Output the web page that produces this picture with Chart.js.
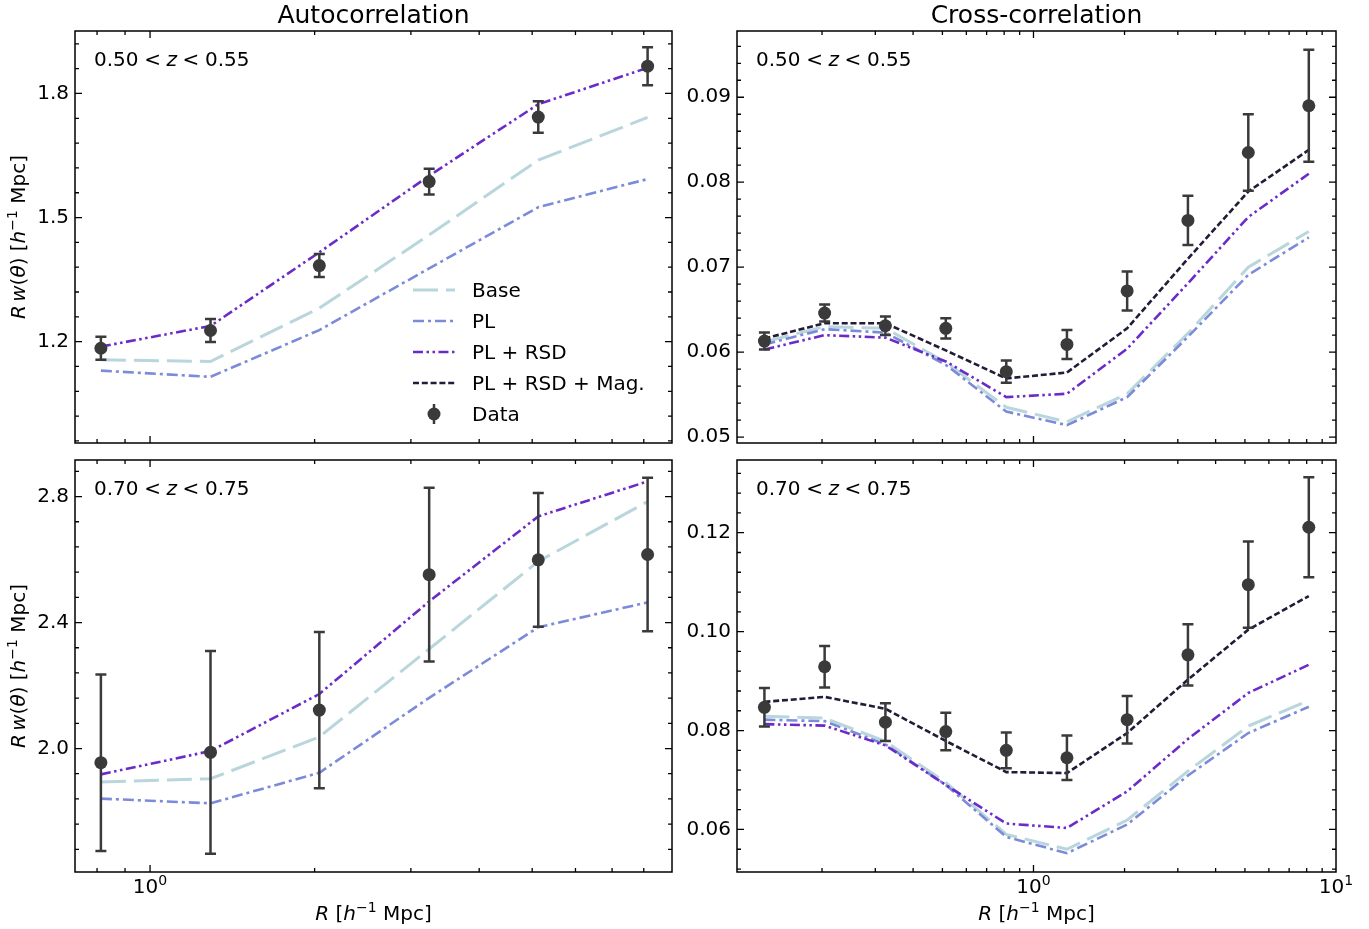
<!DOCTYPE html>
<html><head><meta charset="utf-8">
<script src="https://cdn.jsdelivr.net/npm/chart.js@4.4.1/dist/chart.umd.min.js"></script>
<style>
html,body{margin:0;padding:0;background:#fff;}
body{width:1369px;height:929px;position:relative;overflow:hidden;}
canvas{position:absolute;left:0;top:0;}
</style>
</head><body>
<canvas id="c0" width="1369" height="929"></canvas>
<canvas id="c1" width="1369" height="929"></canvas>
<canvas id="c2" width="1369" height="929"></canvas>
<canvas id="c3" width="1369" height="929"></canvas>
<script>
// ---------------- data ----------------
const R_AUTO  = [0.813, 1.29, 2.04, 3.24, 5.13, 8.13];
const R_CROSS = [0.129, 0.204, 0.324, 0.513, 0.813, 1.29, 2.04, 3.24, 5.13, 8.13];

// Autocorrelation, 0.50 < z < 0.55
const autoLo_data  = [1.184, 1.227, 1.384, 1.587, 1.743, 1.866];
const autoLo_err   = [0.028, 0.028, 0.028, 0.031, 0.038, 0.046];
const autoLo_base  = [1.156, 1.152, 1.281, 1.458, 1.639, 1.742];
const autoLo_pl    = [1.130, 1.115, 1.228, 1.377, 1.525, 1.593];
const autoLo_plrsd = [1.188, 1.238, 1.416, 1.601, 1.774, 1.862];

// Autocorrelation, 0.70 < z < 0.75
const autoHi_data  = [1.955, 1.988, 2.122, 2.552, 2.599, 2.616];
const autoHi_err   = [0.280, 0.322, 0.248, 0.276, 0.212, 0.244];
const autoHi_base  = [1.894, 1.904, 2.037, 2.316, 2.594, 2.784];
const autoHi_pl    = [1.841, 1.826, 1.923, 2.161, 2.385, 2.464];
const autoHi_plrsd = [1.918, 1.992, 2.173, 2.467, 2.737, 2.848];

// Cross-correlation, 0.50 < z < 0.55
const crossLo_data  = [0.0613, 0.0646, 0.0631, 0.0628, 0.0577, 0.0609, 0.0672, 0.0755, 0.0835, 0.0890];
const crossLo_err   = [0.0010, 0.0010, 0.0011, 0.0012, 0.0013, 0.0017, 0.0023, 0.0029, 0.0045, 0.0066];
const crossLo_base  = [0.0612, 0.0630, 0.0628, 0.0588, 0.0535, 0.0518, 0.0551, 0.0622, 0.0700, 0.0742];
const crossLo_pl    = [0.0609, 0.0627, 0.0623, 0.0585, 0.0530, 0.0514, 0.0547, 0.0618, 0.0691, 0.0735];
const crossLo_plrsd = [0.0603, 0.0620, 0.0617, 0.0589, 0.0547, 0.0551, 0.0604, 0.0681, 0.0759, 0.0810];
const crossLo_mag   = [0.0616, 0.0634, 0.0634, 0.0602, 0.0569, 0.0576, 0.0628, 0.0710, 0.0789, 0.0838];

// Cross-correlation, 0.70 < z < 0.75
const crossHi_data  = [0.0847, 0.0929, 0.0817, 0.0798, 0.0760, 0.0745, 0.0822, 0.0953, 0.1095, 0.1211];
const crossHi_err   = [0.0039, 0.0042, 0.0038, 0.0038, 0.0036, 0.0045, 0.0048, 0.0062, 0.0087, 0.0101];
const crossHi_base  = [0.0829, 0.0825, 0.0778, 0.0695, 0.0590, 0.0560, 0.0619, 0.0718, 0.0809, 0.0861];
const crossHi_pl    = [0.0822, 0.0819, 0.0772, 0.0690, 0.0585, 0.0552, 0.0610, 0.0709, 0.0795, 0.0848];
const crossHi_plrsd = [0.0813, 0.0810, 0.0770, 0.0690, 0.0612, 0.0603, 0.0677, 0.0783, 0.0876, 0.0933];
const crossHi_mag   = [0.0858, 0.0868, 0.0844, 0.0779, 0.0716, 0.0714, 0.0795, 0.0903, 0.1004, 0.1072];

// tick values and labels
const autoLoTicks  = [1.2, 1.5, 1.8];        const autoLoLabels  = ['1.2','1.5','1.8'];
const autoHiTicks  = [2.0, 2.4, 2.8];        const autoHiLabels  = ['2.0','2.4','2.8'];
const crossLoTicks = [0.05,0.06,0.07,0.08,0.09]; const crossLoLabels = ['0.05','0.06','0.07','0.08','0.09'];
const crossHiTicks = [0.06,0.08,0.10,0.12];  const crossHiLabels = ['0.06','0.08','0.10','0.12'];
const autoXMajors  = [1];                    const autoXExp  = ['0'];
const crossXMajors = [1, 10];                const crossXExp = ['0','1'];

const seriesNames = ['Base', 'PL', 'PL + RSD', 'PL + RSD + Mag.', 'Data'];

// ---------------- styles ----------------
const W = 1369, H = 929;
const FONT = '"DejaVu Sans", sans-serif';
const COL = { base:'#b9d6dd', pl:'#7b8bda', plrsd:'#6b2bc9', mag:'#231b37', data:'#3a3a3a' };
const DASH = { base:[25,8], pl:[11,4,3,4], plrsd:[10,3.5,2.5,3.5,2.5,3.5], mag:[6,2.8] };
const LW = { base:3, pl:2.6, plrsd:2.6, mag:2.6 };
const AXW = 60;

function segFont(sz, it){ return (it ? 'italic ' : '') + sz + 'px ' + FONT; }
function drawRich(ctx, segs, x, y, size, align, rot){
  let w = 0; const out = [];
  for (const s of segs){
    if (s.sp !== undefined){ w += s.sp*size; continue; }
    const sz = s.sup ? size*0.7 : size;
    const f = segFont(sz, s.it);
    ctx.font = f;
    const sw = ctx.measureText(s.t).width;
    out.push({t:s.t, x:w, f, dy: s.sup ? -size*0.4 : 0});
    w += sw;
  }
  ctx.save();
  ctx.translate(x, y);
  if (rot) ctx.rotate(rot);
  const x0 = align === 'center' ? -w/2 : align === 'right' ? -w : 0;
  ctx.textBaseline = 'alphabetic'; ctx.textAlign = 'left'; ctx.fillStyle = '#000';
  for (const o of out){ ctx.font = o.f; ctx.fillText(o.t, x0 + o.x, o.dy); }
  ctx.restore();
}
const Y_TITLE = [{t:'R',it:1},{sp:0.17},{t:'w',it:1},{t:'('},{t:'θ',it:1},{t:')'},{t:' ['},{t:'h',it:1},{t:'−1',sup:1},{t:' Mpc]'}];
const X_TITLE = [{t:'R',it:1},{t:' ['},{t:'h',it:1},{t:'−1',sup:1},{t:' Mpc]'}];
function zSegs(a, b){ return [{t:a},{sp:0.28},{t:'<'},{sp:0.28},{t:'z',it:1},{sp:0.28},{t:'<'},{sp:0.28},{t:b}]; }

function makePanel(spec){
  const xs = spec.x;
  const pts = arr => arr.map((v,i) => ({x: xs[i], y: v}));
  const S = spec.series;
  const datasets = [
    {label:'Data', data:pts(S.data), showLine:false, pointRadius:6.5, pointHoverRadius:6.5,
     pointBackgroundColor:COL.data, pointBorderWidth:0, order:0}
  ];
  if (S.mag) datasets.push({label:seriesNames[3], data:pts(S.mag), showLine:true, borderColor:COL.mag,
     borderWidth:LW.mag, borderDash:DASH.mag, pointRadius:0, order:1});
  datasets.push({label:seriesNames[2], data:pts(S.plrsd), showLine:true, borderColor:COL.plrsd,
     borderWidth:LW.plrsd, borderDash:DASH.plrsd, pointRadius:0, order:2});
  datasets.push({label:seriesNames[1], data:pts(S.pl), showLine:true, borderColor:COL.pl,
     borderWidth:LW.pl, borderDash:DASH.pl, pointRadius:0, order:3});
  datasets.push({label:seriesNames[0], data:pts(S.base), showLine:true, borderColor:COL.base,
     borderWidth:LW.base, borderDash:DASH.base, pointRadius:0, order:4});

  const a = spec.area;
  const deco = {
    id: 'deco' + spec.id,
    beforeDatasetDraw(chart, args){
      if (args.index !== 0) return;
      const ctx = chart.ctx, xS = chart.scales.x, yS = chart.scales.y;
      ctx.save();
      ctx.strokeStyle = COL.data; ctx.lineWidth = 2.5; ctx.setLineDash([]);
      S.data.forEach((v, i) => {
        const px = xS.getPixelForValue(xs[i]);
        const y1 = yS.getPixelForValue(v + S.err[i]);
        const y2 = yS.getPixelForValue(v - S.err[i]);
        ctx.beginPath();
        ctx.moveTo(px, y1); ctx.lineTo(px, y2);
        ctx.moveTo(px - 5.5, y1); ctx.lineTo(px + 5.5, y1);
        ctx.moveTo(px - 5.5, y2); ctx.lineTo(px + 5.5, y2);
        ctx.stroke();
      });
      ctx.restore();
    },
    afterDraw(chart){
      const ctx = chart.ctx, ca = chart.chartArea, xS = chart.scales.x, yS = chart.scales.y;
      ctx.save();
      ctx.setLineDash([]);
      ctx.strokeStyle = '#000'; ctx.lineWidth = 1.5;
      ctx.strokeRect(ca.left, ca.top, ca.right - ca.left, ca.bottom - ca.top);
      ctx.lineWidth = 1.3;
      const tickX = (v, len) => {
        const p = xS.getPixelForValue(v);
        if (p < ca.left + 1 || p > ca.right - 1) return;
        ctx.beginPath();
        ctx.moveTo(p, ca.bottom); ctx.lineTo(p, ca.bottom - len);
        ctx.moveTo(p, ca.top); ctx.lineTo(p, ca.top + len);
        ctx.stroke();
      };
      const tickY = (v, len) => {
        const p = yS.getPixelForValue(v);
        if (p < ca.top + 1 || p > ca.bottom - 1) return;
        ctx.beginPath();
        ctx.moveTo(ca.left, p); ctx.lineTo(ca.left + len, p);
        ctx.moveTo(ca.right, p); ctx.lineTo(ca.right - len, p);
        ctx.stroke();
      };
      spec.xMajors.forEach(v => tickX(v, 7));
      for (let d = -1; d <= 0; d++){
        for (let m = 2; m <= 9; m++){
          const v = m * Math.pow(10, d);
          if (v > spec.xMin && v < spec.xMax) tickX(v, 4);
        }
      }
      spec.yTicks.forEach(v => tickY(v, 7));
      const st = spec.yMinor;
      for (let k = Math.ceil(spec.yMin / st - 1e-9); k * st <= spec.yMax; k++){
        const v = k * st;
        if (spec.yTicks.some(t => Math.abs(t - v) < st * 0.01)) continue;
        tickY(v, 4);
      }
      if (spec.bottom){
        spec.xMajors.forEach((v, i) => {
          const p = xS.getPixelForValue(v);
          drawRich(ctx, [{t:'10'},{t:spec.xExp[i], sup:1}], p, 893, 20, 'center');
        });
        drawRich(ctx, X_TITLE, (ca.left + ca.right)/2, 920, 20, 'center');
      }
      if (spec.title){
        ctx.font = '25px ' + FONT; ctx.fillStyle = '#000'; ctx.textAlign = 'center'; ctx.textBaseline = 'alphabetic';
        ctx.fillText(spec.title, (ca.left + ca.right)/2, 23);
      }
      if (spec.yTitle){
        drawRich(ctx, Y_TITLE, 25, (ca.top + ca.bottom)/2, 20, 'center', -Math.PI/2);
      }
      drawRich(ctx, zSegs(spec.z[0], spec.z[1]), ca.left + 19, ca.top + 35, 20, 'left');
      if (spec.legend){
        const x0 = 413, x1 = 455, tx = 472;
        const keys = ['base','pl','plrsd','mag','data'];
        keys.forEach((k, i) => {
          const y = 290 + i * 31;
          if (k === 'data'){
            ctx.strokeStyle = COL.data; ctx.lineWidth = 2.5; ctx.setLineDash([]);
            ctx.beginPath(); ctx.moveTo(434, y - 10); ctx.lineTo(434, y + 10); ctx.stroke();
            ctx.fillStyle = COL.data; ctx.beginPath(); ctx.arc(434, y, 6.5, 0, Math.PI*2); ctx.fill();
          } else {
            ctx.strokeStyle = COL[k]; ctx.lineWidth = LW[k]; ctx.setLineDash(DASH[k]);
            ctx.beginPath(); ctx.moveTo(x0, y); ctx.lineTo(x1, y); ctx.stroke();
          }
          ctx.setLineDash([]);
          ctx.font = '20px ' + FONT; ctx.fillStyle = '#000'; ctx.textAlign = 'left'; ctx.textBaseline = 'alphabetic';
          ctx.fillText(seriesNames[i], tx, y + 7);
        });
      }
      ctx.restore();
    }
  };

  new Chart(document.getElementById(spec.id), {
    type: 'scatter',
    data: { datasets },
    options: {
      responsive: false, animation: false, devicePixelRatio: 1,
      layout: { padding: { left: a.l - AXW, top: a.t, right: W - a.r, bottom: H - a.b } },
      scales: {
        x: {
          type: 'logarithmic', bounds: 'data', min: spec.xMin, max: spec.xMax,
          grid: { display: false, drawTicks: false }, border: { display: false },
          ticks: { display: false },
          afterFit: s => { s.height = 0; }
        },
        y: {
          type: 'linear', bounds: 'data', min: spec.yMin, max: spec.yMax,
          grid: { display: false, drawTicks: false }, border: { display: false },
          afterBuildTicks: s => { s.ticks = spec.yTicks.map(v => ({ value: v })); },
          ticks: { font: { family: 'DejaVu Sans', size: 20 }, color: '#000', padding: 6,
                   callback: (v, i) => spec.yLabels[i] },
          afterFit: s => { s.width = AXW; }
        }
      },
      plugins: { legend: { display: false }, tooltip: { enabled: false } }
    },
    plugins: [deco]
  });
}

makePanel({ id:'c0', area:{l:75,t:31,r:672,b:443}, x:R_AUTO, xMin:0.729, xMax:9.01,
  yMin:0.955, yMax:1.951, yTicks:autoLoTicks, yLabels:autoLoLabels, yMinor:0.06,
  xMajors:autoXMajors, xExp:autoXExp, z:['0.50','0.55'], title:'Autocorrelation', yTitle:true, legend:true,
  series:{data:autoLo_data, err:autoLo_err, base:autoLo_base, pl:autoLo_pl, plrsd:autoLo_plrsd} });
makePanel({ id:'c1', area:{l:737,t:31,r:1336,b:443}, x:R_CROSS, xMin:0.1047, xMax:10,
  yMin:0.0493, yMax:0.0978, yTicks:crossLoTicks, yLabels:crossLoLabels, yMinor:0.002,
  xMajors:crossXMajors, xExp:crossXExp, z:['0.50','0.55'], title:'Cross-correlation',
  series:{data:crossLo_data, err:crossLo_err, base:crossLo_base, pl:crossLo_pl, plrsd:crossLo_plrsd, mag:crossLo_mag} });
makePanel({ id:'c2', area:{l:75,t:460,r:672,b:872}, x:R_AUTO, xMin:0.729, xMax:9.01,
  yMin:1.608, yMax:2.916, yTicks:autoHiTicks, yLabels:autoHiLabels, yMinor:0.08,
  xMajors:autoXMajors, xExp:autoXExp, z:['0.70','0.75'], yTitle:true, bottom:true,
  series:{data:autoHi_data, err:autoHi_err, base:autoHi_base, pl:autoHi_pl, plrsd:autoHi_plrsd} });
makePanel({ id:'c3', area:{l:737,t:460,r:1336,b:872}, x:R_CROSS, xMin:0.1047, xMax:10,
  yMin:0.0514, yMax:0.1347, yTicks:crossHiTicks, yLabels:crossHiLabels, yMinor:0.004,
  xMajors:crossXMajors, xExp:crossXExp, z:['0.70','0.75'], bottom:true,
  series:{data:crossHi_data, err:crossHi_err, base:crossHi_base, pl:crossHi_pl, plrsd:crossHi_plrsd, mag:crossHi_mag} });
</script>
</body></html>
